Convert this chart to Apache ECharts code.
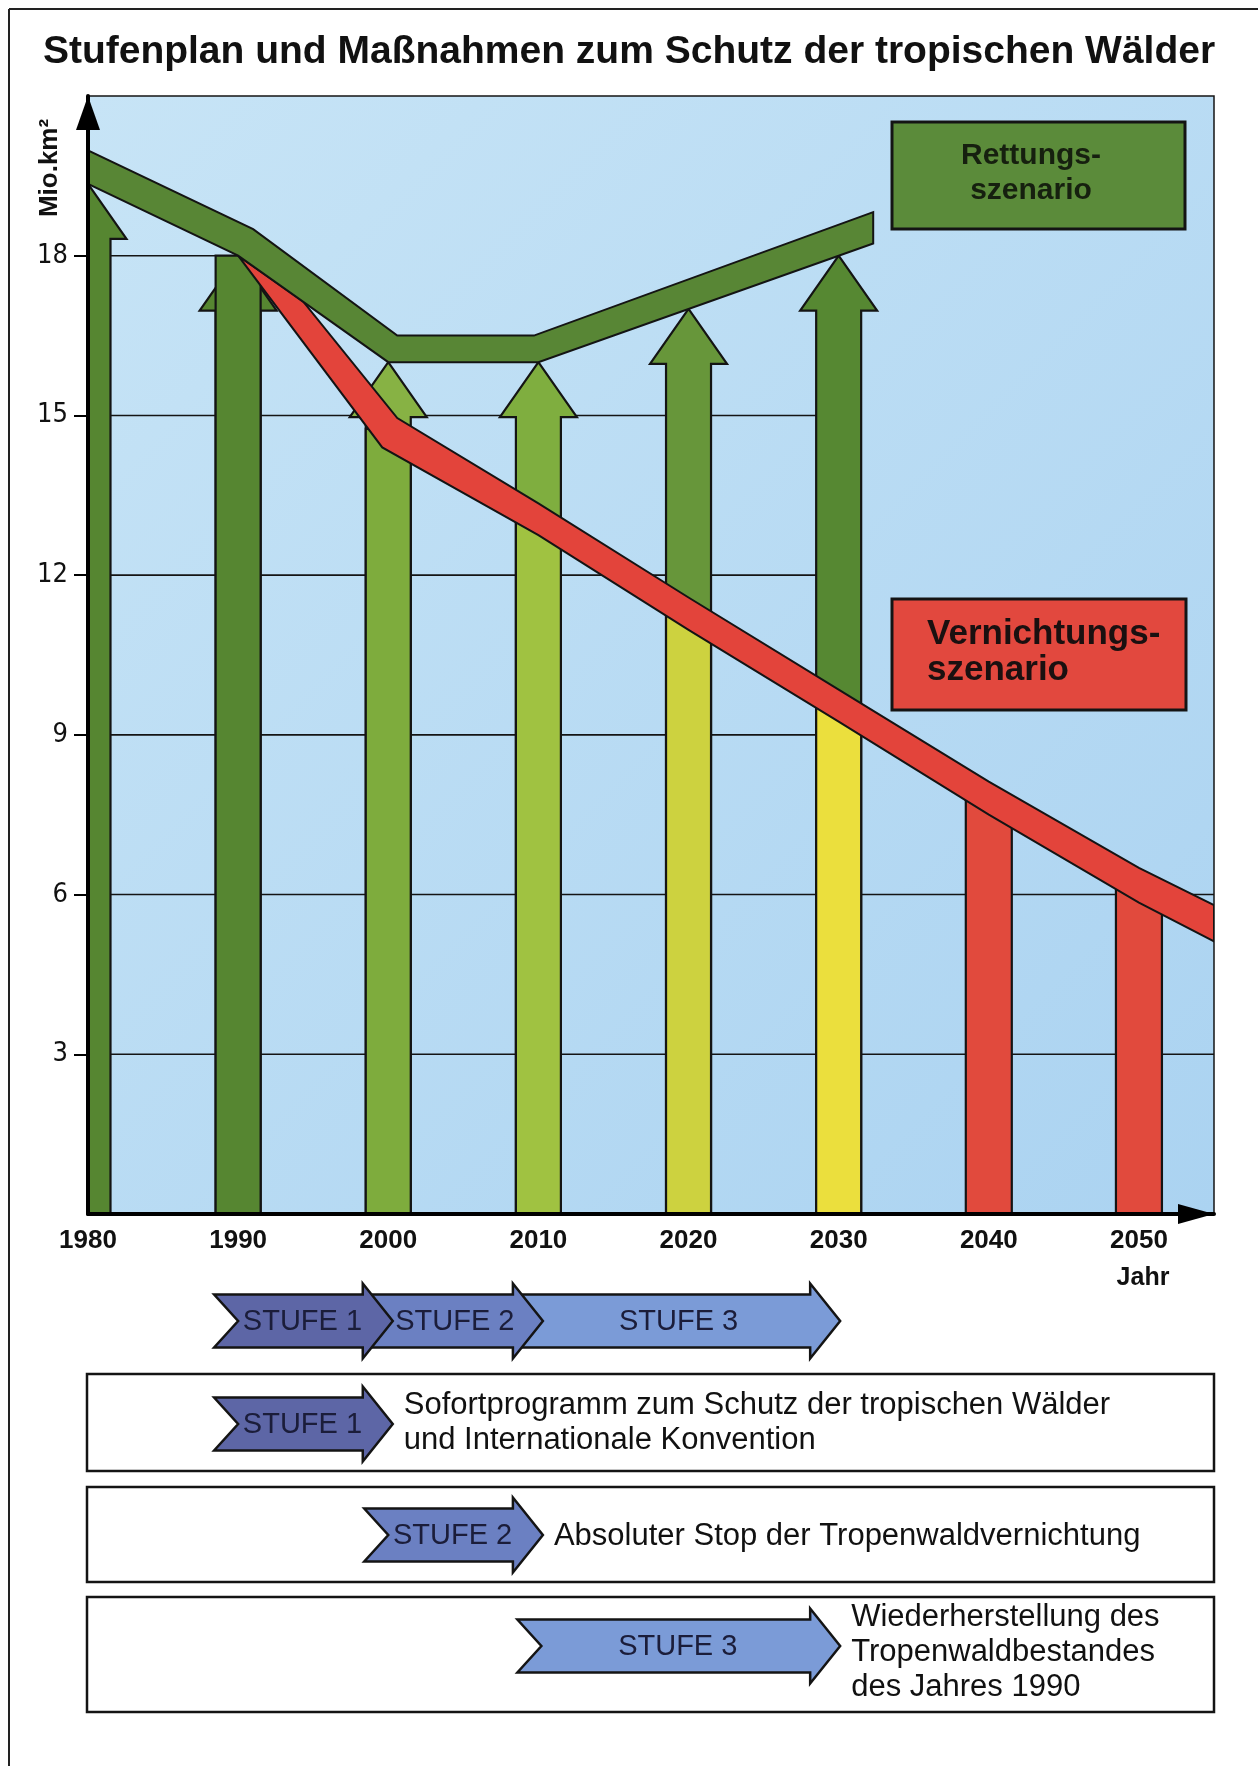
<!DOCTYPE html>
<html>
<head>
<meta charset="utf-8">
<script src="https://cdn.jsdelivr.net/npm/echarts@6/dist/echarts.min.js"></script>
<style>
  html, body { margin: 0; padding: 0; background: #ffffff; }
  #chart { width: 1258px; height: 1766px; }
</style>
</head>
<body>
<div id="chart"></div>
<script>
// ---- Achsen ----
const yTicks = [3, 6, 9, 12, 15, 18];
const xTicks = [1980, 1990, 2000, 2010, 2020, 2030, 2040, 2050];
// Jahr, bis zu dem jede Gitterlinie sichtbar ist
const gitterEnde = [2055, 2055, 2030, 2030, 2030, 1990];

// ---- Waldfläche (Mio. km²) ----
const pfeilJahre   = [1980, 1990, 2000, 2010, 2020, 2030];
const pfeilSpitzen = [19.35, 18.0, 16.0, 16.0, 17.0, 18.0];
const balkenJahre  = [2040, 2050];
const balkenWerte  = [7.8, 6.15];

// Rettungsszenario: Ober- und Unterkante des Bandes [Jahr, Wert]
const rettungOben  = [[1980, 19.98], [1991, 18.5], [2000.6, 16.5], [2009.7, 16.5], [2032.3, 18.82]];
const rettungUnten = [[1980, 19.35], [1990, 18.0], [2000, 16.0], [2010, 16.0], [2032.3, 18.23]];

// Vernichtungsszenario: Ober- und Unterkante des Bandes [Jahr, Wert]
const vernichtungOben  = [[1990, 18.0], [1994.3, 17.15], [2000.6, 14.95], [2010, 13.35], [2020, 11.58],
                          [2030, 9.85], [2040, 8.12], [2050, 6.5], [2055, 5.8]];
const vernichtungUnten = [[1990, 18.0], [1999.6, 14.4], [2010, 12.75], [2020, 10.97], [2030, 9.25],
                          [2040, 7.5], [2050, 5.85], [2055, 5.12]];

// ---- Stufenplan ----
const stufenNamen = ['STUFE 1', 'STUFE 2', 'STUFE 3'];
const stufenVon   = [1988.4, 1998.4, 2008.6];
const stufenBis   = [2000.3, 2010.3, 2030.1];
const stufenTexte = [
  ['Sofortprogramm zum Schutz der tropischen Wälder', 'und Internationale Konvention'],
  ['Absoluter Stop der Tropenwaldvernichtung'],
  ['Wiederherstellung des', 'Tropenwaldbestandes', 'des Jahres 1990']
];

// ---- Farben ----
const pfeilFarbeOben  = ['#568631', '#568631', '#87b244', '#7fae3f', '#67963a', '#568832'];
const pfeilFarbeUnten = ['#568631', '#568631', '#7eac3d', '#a0c241', '#cdd23f', '#ebdf3d'];
const balkenFarbe = '#e14a3d';
const gruenBand = '#588635';
const rotBand = '#e3443b';
const stufenFarben = ['#5d66a6', '#6b80c2', '#7b9bd7'];

const SANS = '"Liberation Sans", Arial, Helvetica, sans-serif';
const NARROW = '"Liberation Sans Narrow", "DejaVu Sans Condensed", "Liberation Sans", sans-serif';
const LINE = '#141414';

// Lage der Stufenzeilen (Zeitleiste und drei Erklärungskästen)
const zeileY = [1321, 1424, 1535, 1646];
const textY  = [1321, 1423, 1536, 1652];
const kaesten = [[87, 1374, 1127, 97], [87, 1487, 1127, 95], [87, 1597, 1127, 115]];

function kante(punkte, jahr) {
  for (let i = 0; i < punkte.length - 1; i++) {
    const a = punkte[i], b = punkte[i + 1];
    if (jahr >= a[0] && jahr <= b[0]) {
      return a[1] + (b[1] - a[1]) * (jahr - a[0]) / (b[0] - a[0]);
    }
  }
  return null;
}
function rotMitte(jahr) {
  const o = kante(vernichtungOben, jahr), u = kante(vernichtungUnten, jahr);
  return (o == null || u == null) ? null : (o + u) / 2;
}

function bandSerie(oben, unten, farbe, z) {
  return {
    type: 'custom', coordinateSystem: 'cartesian2d', clip: true, z: z, silent: true,
    data: [[oben[0][0], oben[0][1]]],
    renderItem: function (params, api) {
      const pts = oben.map(p => api.coord(p)).concat(unten.slice().reverse().map(p => api.coord(p)));
      return { type: 'polygon', shape: { points: pts },
               style: { fill: farbe, stroke: LINE, lineWidth: 2, lineJoin: 'miter' } };
    }
  };
}

const chart = echarts.init(document.getElementById('chart'), null, { renderer: 'canvas' });

const option = {
  animation: false,
  backgroundColor: '#ffffff',
  title: {
    text: 'Stufenplan und Maßnahmen zum Schutz der tropischen Wälder',
    left: 'center', top: 28,
    textStyle: { fontFamily: SANS, fontWeight: 'bold', fontSize: 39, color: '#111' }
  },
  grid: {
    left: 88, right: 44, top: 96, bottom: 552, show: true,
    borderColor: LINE, borderWidth: 1.5,
    backgroundColor: new echarts.graphic.LinearGradient(0, 0, 1, 1, [
      { offset: 0, color: '#c7e4f6' }, { offset: 1, color: '#abd3f1' }
    ])
  },
  xAxis: {
    type: 'value', min: 1980, max: 2055, interval: 10, z: 10,
    axisLine: { show: true, symbol: ['none', 'triangle'], symbolSize: [20, 36], symbolOffset: [0, -18],
                lineStyle: { color: '#000', width: 4 } },
    axisTick: { show: false },
    splitLine: { show: false },
    axisLabel: {
      margin: 14, fontFamily: SANS, fontWeight: 'bold', fontSize: 26, color: '#111',
      showMaxLabel: false,
      formatter: v => (xTicks.indexOf(v) >= 0 ? String(v) : '')
    }
  },
  yAxis: {
    type: 'value', min: 0, max: 21, interval: 3, z: 10,
    axisLine: { show: true, symbol: ['none', 'triangle'], symbolSize: [24, 34], symbolOffset: [0, -17],
                lineStyle: { color: '#000', width: 4 } },
    axisTick: { show: true, length: 14, customValues: yTicks, lineStyle: { color: '#000', width: 2 } },
    splitLine: { show: false },
    axisLabel: {
      margin: 20, fontFamily: NARROW, fontSize: 27, color: '#111', customValues: yTicks,
      formatter: v => (yTicks.indexOf(v) >= 0 ? String(v) : '')
    }
  },
  series: [
    // Gitterlinien
    {
      type: 'custom', coordinateSystem: 'cartesian2d', clip: true, z: 1, silent: true,
      data: yTicks.map((v, i) => [gitterEnde[i], v]),
      renderItem: function (params, api) {
        const a = api.coord([1980, api.value(1)]);
        const b = api.coord([api.value(0), api.value(1)]);
        return { type: 'line', shape: { x1: a[0], y1: a[1], x2: b[0], y2: b[1] },
                 style: { stroke: LINE, lineWidth: 1.6 } };
      }
    },
    // Pfeile 1980–2030
    {
      type: 'custom', coordinateSystem: 'cartesian2d', clip: true, z: 2, silent: true,
      data: pfeilJahre.map((j, i) => [j, pfeilSpitzen[i], i]),
      renderItem: function (params, api) {
        const jahr = api.value(0), i = api.value(2);
        const spitze = api.coord([jahr, api.value(1)]);
        const fuss = api.coord([jahr, 0]);
        const x = spitze[0], yt = spitze[1], yb = fuss[1];
        const bw = 22.5, kw = 38.5, kh = 55;
        const children = [{
          type: 'polygon',
          shape: { points: [[x - bw, yb], [x - bw, yt + kh], [x - kw, yt + kh], [x, yt],
                            [x + kw, yt + kh], [x + bw, yt + kh], [x + bw, yb]] },
          style: { fill: pfeilFarbeOben[i], stroke: LINE, lineWidth: 2.2, lineJoin: 'miter' }
        }];
        const grenze = rotMitte(jahr);
        if (grenze != null) {
          const yg = api.coord([jahr, grenze])[1];
          children.push({
            type: 'rect', shape: { x: x - bw, y: yg, width: 2 * bw, height: yb - yg },
            style: { fill: pfeilFarbeUnten[i], stroke: LINE, lineWidth: 2.2 }
          });
        }
        return { type: 'group', children: children };
      }
    },
    // Balken 2040, 2050
    {
      type: 'custom', coordinateSystem: 'cartesian2d', clip: true, z: 2, silent: true,
      data: balkenJahre.map((j, i) => [j, balkenWerte[i]]),
      renderItem: function (params, api) {
        const oben = api.coord([api.value(0), api.value(1)]);
        const fuss = api.coord([api.value(0), 0]);
        return { type: 'rect', shape: { x: oben[0] - 23, y: oben[1], width: 46, height: fuss[1] - oben[1] },
                 style: { fill: balkenFarbe, stroke: LINE, lineWidth: 2.2 } };
      }
    },
    bandSerie(vernichtungOben, vernichtungUnten, rotBand, 3),
    bandSerie(rettungOben, rettungUnten, gruenBand, 4),
    // Stufenpfeile: Zeitleiste und Erklärungen
    {
      type: 'custom', coordinateSystem: 'cartesian2d', clip: false, z: 6, silent: true,
      data: [[0, 2], [0, 1], [0, 0], [1, 0], [2, 1], [3, 2]],
      renderItem: function (params, api) {
        const zeile = api.value(0), s = api.value(1);
        const xl = api.coord([stufenVon[s], 0])[0];
        const xr = api.coord([stufenBis[s], 0])[0];
        const yc = zeileY[zeile];
        const rh = 26.5, kh = 37.5, kl = 30, kerbe = 24;
        const pts = [[xl, yc - rh], [xr - kl, yc - rh], [xr - kl, yc - kh], [xr, yc],
                     [xr - kl, yc + kh], [xr - kl, yc + rh], [xl, yc + rh], [xl + kerbe, yc]];
        const links = (zeile === 0 && s > 0) ? api.coord([stufenBis[s - 1], 0])[0] : xl + kerbe;
        const mitte = (links + xr - kl) / 2 + 2;
        const children = [
          { type: 'polygon', shape: { points: pts },
            style: { fill: stufenFarben[s], stroke: LINE, lineWidth: 2.5, lineJoin: 'miter' } },
          { type: 'text', x: mitte, y: yc + 1,
            style: { text: stufenNamen[s], fill: '#1b1d3a', font: '29px ' + SANS,
                     align: 'center', verticalAlign: 'middle' } }
        ];
        if (zeile > 0) {
          children.push({
            type: 'text', x: xr + 11, y: textY[zeile],
            style: { text: stufenTexte[s].join('\n'), fill: '#111', font: '31px ' + SANS,
                     lineHeight: 35, align: 'left', verticalAlign: 'middle' }
          });
        }
        return { type: 'group', children: children };
      }
    }
  ],
  graphic: [
    // Rahmen
    { type: 'line', z: 0, shape: { x1: 9, y1: 9, x2: 1258, y2: 9 }, style: { stroke: '#222', lineWidth: 2 } },
    { type: 'line', z: 0, shape: { x1: 9, y1: 9, x2: 9, y2: 1766 }, style: { stroke: '#222', lineWidth: 2 } },
    // Achsentitel
    { type: 'text', x: 50, y: 168, rotation: Math.PI / 2, z: 20,
      style: { text: 'Mio.km²', font: 'bold 26px ' + SANS, fill: '#111', align: 'center', verticalAlign: 'middle' } },
    { type: 'text', x: 1143, y: 1278, z: 20,
      style: { text: 'Jahr', font: 'bold 25px ' + SANS, fill: '#111', align: 'center', verticalAlign: 'middle' } },
    // Legendenkästen
    { type: 'rect', z: 20, shape: { x: 892, y: 122, width: 293, height: 107 },
      style: { fill: '#5b8b3a', stroke: LINE, lineWidth: 3 } },
    { type: 'text', x: 1031, y: 173, z: 21,
      style: { text: 'Rettungs-\nszenario', font: 'bold 30px ' + SANS, fill: '#16200f', lineHeight: 35,
               align: 'center', verticalAlign: 'middle' } },
    { type: 'rect', z: 20, shape: { x: 892, y: 599, width: 294, height: 111 },
      style: { fill: '#e2483e', stroke: LINE, lineWidth: 3 } },
    { type: 'text', x: 927, y: 652, z: 21,
      style: { text: 'Vernichtungs-\nszenario', font: 'bold 35px ' + SANS, fill: '#1a1010', lineHeight: 36,
               align: 'left', verticalAlign: 'middle' } }
  ].concat(kaesten.map(k => ({
    type: 'rect', z: 1, shape: { x: k[0], y: k[1], width: k[2], height: k[3] },
    style: { fill: '#ffffff', stroke: LINE, lineWidth: 2.5 }
  })))
};

chart.setOption(option);
</script>
</body>
</html>
